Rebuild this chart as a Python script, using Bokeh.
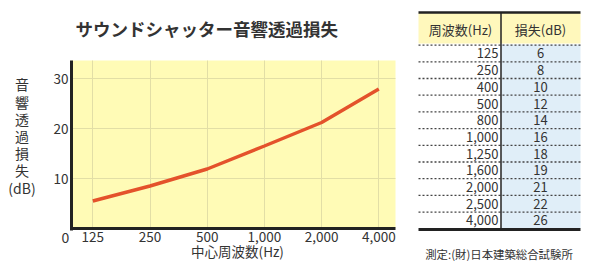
from bokeh.plotting import figure
from bokeh.models import Range1d, FixedTicker, LinearScale
from bokeh.core.properties import value
from bokeh.embed import file_html
from bokeh.resources import INLINE

FONT = "Noto Sans CJK JP"

# ---- data ----
title_text = "サウンドシャッター音響透過損失"
freq_ticks = [125, 250, 500, 1000, 2000, 4000]
tick_labels = ["125", "250", "500", "1,000", "2,000", "4,000"]
curve_loss = [5.5, 8.5, 11.9, 16.5, 21.2, 27.9]
y_ticks = [10, 20, 30]
y_label = "音\n響\n透\n過\n損\n失\n(dB)"
x_label = "中心周波数(Hz)"
table_freq = ["125", "250", "400", "500", "800", "1,000", "1,250", "1,600", "2,000", "2,500", "4,000"]
table_loss = [6, 8, 10, 12, 14, 16, 18, 19, 21, 22, 26]
header = ["周波数(Hz)", "損失(dB)"]
footer = "測定:(財)日本建築総合試験所"

# ---- geometry (canvas px) ----
W, H = 600, 272
C_LEFT, C_RIGHT, C_TOP = 71, 395, 60     # chart area
X0_PX, STEP = 92.3, 57.2                 # 125 Hz position, px per octave
Y0_PX, PX_PER_DB = 228, 5.0              # 0 dB position


def f_at(px):
    return 125 * 2 ** ((px - X0_PX) / STEP)


def v_at(py):
    return (Y0_PX - py) / PX_PER_DB


p = figure(width=W, height=H, x_axis_type="log", title=None,
           x_range=Range1d(f_at(0), f_at(W)), y_range=Range1d(v_at(H), v_at(0)),
           output_backend="svg", toolbar_location=None, min_border=0)
p.outline_line_color = None
p.background_fill_color = "white"
p.border_fill_color = "white"
p.extra_x_ranges = {"px": Range1d(0, W)}
p.extra_y_ranges = {"px": Range1d(H, 0)}
p.extra_x_scales = {"px": LinearScale()}
p.extra_y_scales = {"px": LinearScale()}

x_lo, x_hi = f_at(C_LEFT), f_at(C_RIGHT)
y_top = v_at(C_TOP)

# chart background
p.quad(left=[x_lo], right=[x_hi], bottom=[0], top=[y_top],
       fill_color="#FFFBB6", line_color=None, level="image")

xa = p.xaxis[0]
ya = p.yaxis[0]
xa.fixed_location = 0
ya.fixed_location = x_lo
xa.ticker = FixedTicker(ticks=freq_ticks)
xa.major_label_overrides = {f: l for f, l in zip(freq_ticks, tick_labels)}
xa.bounds = (x_lo, x_hi)
ya.ticker = FixedTicker(ticks=y_ticks)
ya.bounds = (v_at(229.5), y_top)
for ax in (xa, ya):
    ax.axis_line_width = 3
    ax.axis_line_color = "#222222"
    ax.major_tick_out = 0
    ax.major_tick_in = 0
    ax.major_tick_line_color = None
    ax.minor_tick_line_color = None
    ax.major_label_text_font = FONT
    ax.major_label_text_font_size = "13.5px"
    ax.major_label_text_color = "#333333"
xa.major_label_standoff = 3
ya.major_label_standoff = 3

xg = p.xgrid[0]
yg = p.ygrid[0]
for g in (xg, yg):
    g.grid_line_color = "#E2DEA6"
    g.grid_line_width = 1
if "cross_bounds" in xg.properties():
    xg.cross_bounds = (0, y_top)
    yg.cross_bounds = (x_lo, x_hi)
else:
    p.quad(left=[x_hi], right=[f_at(W)], bottom=[v_at(H)], top=[v_at(0)],
           fill_color="white", line_color=None)
    p.quad(left=[f_at(0)], right=[f_at(W)], bottom=[y_top], top=[v_at(0)],
           fill_color="white", line_color=None)
    p.quad(left=[f_at(0)], right=[f_at(W)], bottom=[v_at(H)], top=[v_at(229.5)],
           fill_color="white", line_color=None)

p.line(freq_ticks, curve_loss, line_color="#E4522B", line_width=3.5)

kw = dict(x_range_name="px", y_range_name="px", text_font=value(FONT), text_color="#333333")

# titles / labels
p.text(x=[75], y=[28], text=[title_text], text_align="left", text_baseline="middle",
       text_font_size="17.5px", text_font_style="bold", **kw)
p.text(x=[21.5], y=[135.5], text=[y_label], text_align="center", text_baseline="middle",
       text_font_size="14px", text_line_height=0.86, **kw)
p.text(x=[237], y=[250.5], text=[x_label], text_align="center", text_baseline="middle",
       text_font_size="13.5px", **kw)
p.text(x=[65], y=[237], text=["0"], text_align="center", text_baseline="middle",
       text_font_size="14px", **kw)
p.text(x=[498.5], y=[253], text=[footer], text_align="center", text_baseline="middle",
       text_font_size="11.4px", **kw)

# ---- table ----
n = len(table_freq)
row_h = 16.7
first_line = 44.6
centers = [first_line + row_h * (k + 0.5) for k in range(n)]
lines_y = [first_line + row_h * k for k in range(n)]
gk = dict(x_range_name="px", y_range_name="px")

p.quad(left=[418], right=[580], top=[12.5], bottom=[43], fill_color="#FFF8BC", line_color=None, **gk)
p.quad(left=[501], right=[580], top=[44], bottom=[228], fill_color="#E0EEF8", line_color=None, **gk)
p.segment(x0=[418] * n, x1=[580] * n, y0=lines_y, y1=lines_y,
          line_color="#444444", line_width=1.3, line_dash="2 2", **gk)
p.segment(x0=[418], x1=[580], y0=[12], y1=[12], line_color="#222222", line_width=2.5, **gk)
p.segment(x0=[418], x1=[580], y0=[229], y1=[229], line_color="#222222", line_width=3, **gk)
p.segment(x0=[500.5], x1=[500.5], y0=[12], y1=[229], line_color="#222222", line_width=1.5, **gk)

p.text(x=[460, 540], y=[29, 29], text=header, text_align="center", text_baseline="middle",
       text_font_size="13px", **kw)
p.text(x=[498] * n, y=centers, text=table_freq, text_align="right", text_baseline="middle",
       text_font_size="13px", **kw)
p.text(x=[540] * n, y=centers, text=[str(v) for v in table_loss], text_align="center",
       text_baseline="middle", text_font_size="13px", **kw)

open("out.html", "w").write(file_html(p, INLINE))
